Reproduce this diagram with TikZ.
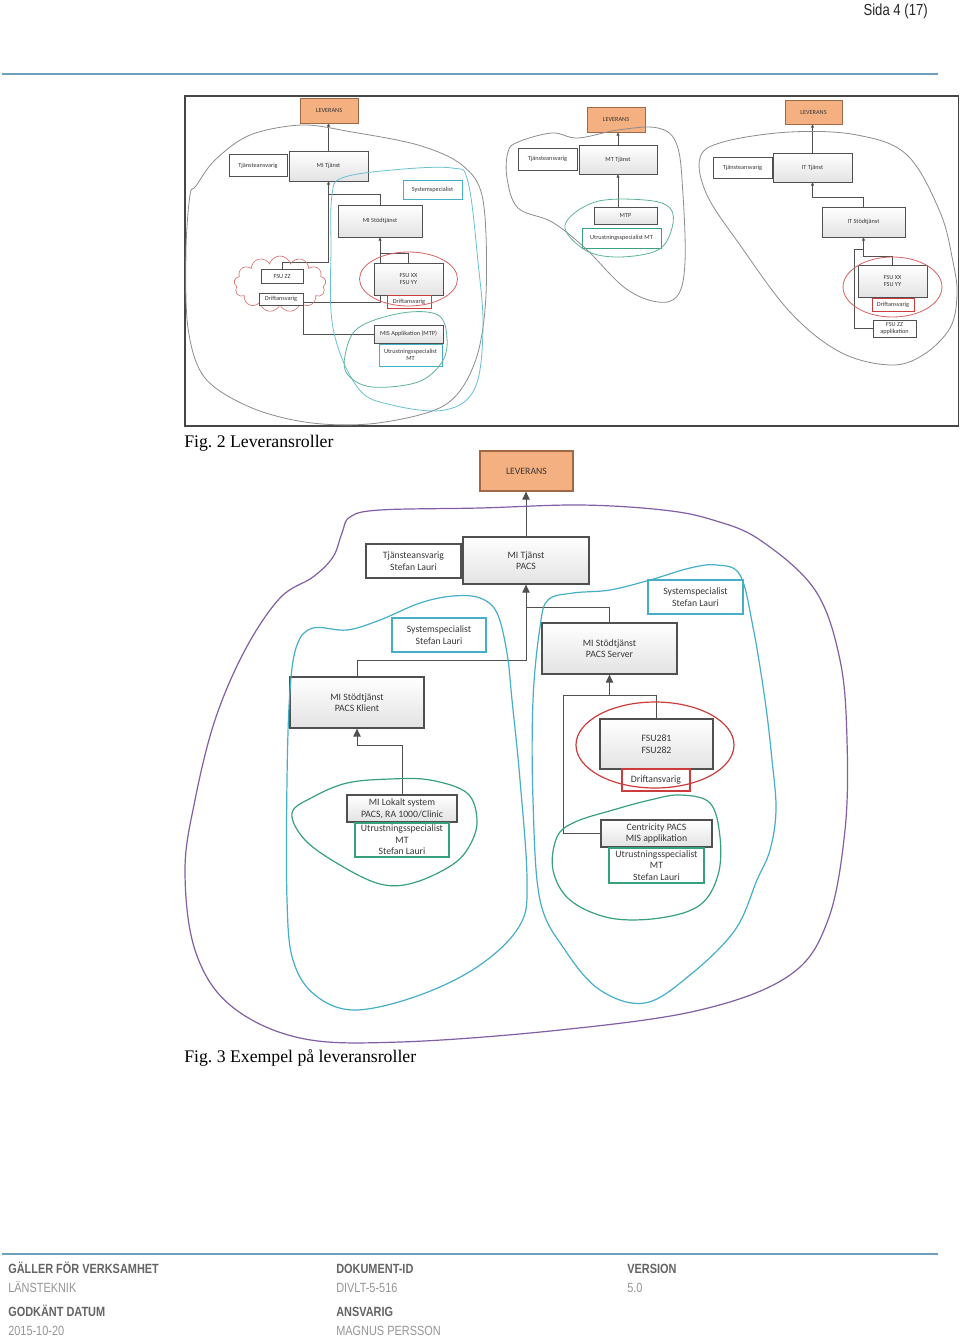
\documentclass[tikz,border=0pt]{standalone}
\usepackage{fontspec}
\setmainfont{Liberation Serif}
\newfontfamily\boxfont{Carlito}
\newfontfamily\narrowfont[FakeStretch=0.82]{Liberation Sans}
\usetikzlibrary{arrows.meta,shapes.symbols,shadows}
\pgfdeclarelayer{back}
\pgfdeclarelayer{bg}
\pgfsetlayers{back,bg,main}
\frenchspacing
\newcommand{\pu}{0.75pt}
\definecolor{steel}{RGB}{110,160,190}
\definecolor{oran}{RGB}{244,176,128}
\definecolor{oranb}{RGB}{160,105,70}
\definecolor{cyanl}{RGB}{70,175,200}
\definecolor{greenl}{RGB}{55,160,125}
\definecolor{redl}{RGB}{205,60,60}
\definecolor{purp}{RGB}{130,95,165}
\definecolor{blobg}{RGB}{140,140,140}
\definecolor{boxb}{RGB}{80,80,80}
\definecolor{txt}{RGB}{55,55,55}
\definecolor{fhd}{RGB}{100,100,100}
\definecolor{fval}{RGB}{150,150,150}
\tikzset{
  base/.style={inner sep=0pt, align=center, text=txt},
  big/.style={base, font=\boxfont\fontsize{7.3}{8.7}\selectfont, line width=0.9pt},
  small/.style={base, font=\boxfont\fontsize{4.7}{5.6}\selectfont, line width=0.5pt},
  gbox/.style={draw=boxb, top color=white, bottom color=gray!22,
     drop shadow={shadow xshift=0.7pt, shadow yshift=-0.7pt, opacity=0.25}},
  wbox/.style={draw=boxb, fill=white},
  cbox/.style={draw=cyanl, fill=white},
  tbox/.style={draw=greenl, fill=white},
  rbox/.style={draw=redl, fill=white},
  lbox/.style={draw=oranb, fill=oran},
  conn/.style={draw=boxb, line width=0.75pt},
  arr/.style={conn, -{Triangle[length=6pt,width=5.5pt]}},
  sconn/.style={draw=boxb, line width=0.45pt},
  sarr/.style={sconn, -{Triangle[length=2.4pt,width=2.2pt]}},
  blob2/.style={draw=blobg, line width=0.6pt},
  fhead/.style={anchor=base west, inner sep=0pt, text=fhd, font=\narrowfont\bfseries\fontsize{10}{12}\selectfont},
  fvalue/.style={anchor=base west, inner sep=0pt, text=fval, font=\narrowfont\fontsize{10}{12}\selectfont},
}
\begin{document}
\begin{tikzpicture}[x=0.75pt,y=-0.75pt]
\useasboundingbox (0,0) rectangle (960,1336);
\begin{pgfonlayer}{back}
\fill[white] (0,0) rectangle (960,1336);
\end{pgfonlayer}

% header
\node[anchor=base east, inner sep=0pt, text=black!85, font=\narrowfont\fontsize{12}{14}\selectfont] (page) at (928,15) {Sida 4 (17)};
\draw[steel, line width=0.9pt] (2,74) -- (938,74);

% ---------------- Fig 2 frame
\draw[gray!55!black, line width=1.2pt] (185,96) rectangle (958.5,426);

% left group
\node[cloud, draw=redl!70, cloud puffs=13, cloud ignores aspect, minimum width=92*\pu, minimum height=56*\pu, line width=0.5pt] (cloudL) at (280,284) {};
\node[small,lbox,minimum width=58*\pu,minimum height=25*\pu] (L1lev) at (329,110.5) {LEVERANS};
\node[small,wbox,minimum width=58*\pu,minimum height=22*\pu] (L1tja) at (258,165.5) {Tjänsteansvarig};
\node[small,gbox,minimum width=79*\pu,minimum height=30*\pu] (L1mit) at (328.5,166) {MI Tjänst};
\node[small,cbox,minimum width=59*\pu,minimum height=19*\pu] (L1sys) at (432.5,189.5) {Systemspecialist};
\node[small,gbox,minimum width=84*\pu,minimum height=32*\pu] (L1stod) at (380,221) {MI Stödtjänst};
\node[small,wbox,minimum width=42*\pu,minimum height=14*\pu] (L1fzz) at (282,276) {FSU ZZ};
\node[small,wbox,minimum width=44*\pu,minimum height=12*\pu] (L1dl) at (281,299) {Driftansvarig};
\node[small,gbox,minimum width=69*\pu,minimum height=32*\pu] (L1fxx) at (408.5,279) {FSU XX\\FSU YY};
\node[small,rbox,minimum width=44*\pu,minimum height=13*\pu] (L1dr) at (409,301.5) {Driftansvarig};
\node[small,gbox,minimum width=69*\pu,minimum height=18*\pu] (L1mis) at (408.5,334) {MIS Applikation (MTP)};
\node[small,cbox,minimum width=63*\pu,minimum height=22*\pu] (L1utr) at (410.5,355) {Utrustningsspecialist\\MT};

% middle group
\node[small,lbox,minimum width=58*\pu,minimum height=25*\pu] (Mlev) at (616,119.5) {LEVERANS};
\node[small,wbox,minimum width=59*\pu,minimum height=22*\pu] (Mtja) at (547.5,159) {Tjänsteansvarig};
\node[small,gbox,minimum width=78*\pu,minimum height=29*\pu] (Mmt) at (618,159.5) {MT Tjänst};
\node[small,gbox,minimum width=63*\pu,minimum height=17*\pu] (Mmtp) at (625.5,215.5) {MTP};
\node[small,tbox,minimum width=79*\pu,minimum height=20*\pu] (Mutr) at (621.5,238) {Utrustningsspecialist MT};

% right group
\node[small,lbox,minimum width=57*\pu,minimum height=24*\pu] (Rlev) at (813.5,112) {LEVERANS};
\node[small,wbox,minimum width=59*\pu,minimum height=21*\pu] (Rtja) at (742.5,167.5) {Tjänsteansvarig};
\node[small,gbox,minimum width=79*\pu,minimum height=29*\pu] (Rit) at (812.5,167.5) {IT Tjänst};
\node[small,gbox,minimum width=83*\pu,minimum height=30*\pu] (Rstod) at (863.5,222) {IT Stödtjänst};
\node[small,gbox,minimum width=69*\pu,minimum height=32*\pu] (Rfxx) at (892.5,281) {FSU XX\\FSU YY};
\node[small,rbox,minimum width=42*\pu,minimum height=13*\pu] (Rdr) at (893,304.5) {Driftansvarig};
\node[small,wbox,minimum width=43*\pu,minimum height=17*\pu] (Rfzz) at (894.5,328.5) {FSU ZZ\\applikation};

\coordinate (a1) at (0,194);
\coordinate (a2) at (0,262);
\coordinate (a3) at (0,253);
\coordinate (a4) at (0,302);
\coordinate (a5) at (303,0);
\coordinate (b1) at (0,197);
\coordinate (b2) at (0,256);
\coordinate (b3) at (0,249);
\coordinate (b4) at (854,0);

\begin{pgfonlayer}{bg}
\draw[sarr] (L1mit.north) -- (L1mit.north |- L1lev.south);
\draw[sarr] (L1stod.north) |- (L1mit.south |- a1) -- (L1mit.south);
\draw[sconn] (L1mit.south |- a1) -- (L1mit.south |- a2) -| (L1fzz.north);
\draw[sarr] (L1fxx.north) |- (L1stod.south |- a3) -- (L1stod.south);
\draw[sconn] (L1stod.south |- a3) -- (L1stod.south |- a4) -| (a5 |- L1mis.west) -- (L1mis.west);
\draw[sarr] (Mmt.north) -- (Mmt.north |- Mlev.south);
\draw[sarr] (Mmt.south |- Mmtp.north) -- (Mmt.south);
\draw[sarr] (Rit.north) -- (Rit.north |- Rlev.south);
\draw[sarr] (Rstod.north) |- (Rit.south |- b1) -- (Rit.south);
\draw[sarr] (Rfxx.north) |- (Rstod.south |- b2) -- (Rstod.south);
\draw[sconn] (Rfzz.west) -| (b4 |- b3) -- (Rstod.south |- b3);
\end{pgfonlayer}

% fig 2 blobs
\draw[blob2] plot[smooth cycle, tension=0.55] coordinates {(190,195) (196,186) (215,160) (250,135) (302,125) (352,132) (418,145) (462,165) (483,200) (486,295) (475,362) (445,405) (378,423) (312,423) (252,408) (205,378) (188,328) (186,250)};
\draw[cyanl!80, line width=0.6pt] plot[smooth cycle, tension=0.6] coordinates {(332,195) (342,178) (392,170) (452,168) (468,182) (478,262) (483,328) (475,388) (445,410) (392,405) (358,388) (333,328) (331,245)};
\draw[greenl!80, line width=0.6pt] plot[smooth cycle, tension=0.6] coordinates {(345,356) (358,328) (402,313) (438,315) (447,338) (442,362) (418,382) (372,387) (348,375)};
\draw[redl!80, line width=0.6pt] (L1fxx.center) ellipse [x radius=36.75pt, y radius=20.25pt];
\draw[blob2] plot[smooth cycle, tension=0.6] coordinates {(508,152) (518,142) (552,133) (578,138) (618,130) (658,128) (677,145) (683,195) (685,262) (678,295) (658,302) (625,288) (585,248) (552,222) (518,208) (507,178)};
\draw[greenl!80, line width=0.6pt] plot[smooth cycle, tension=0.6] coordinates {(565,225) (595,202) (645,200) (670,208) (672,228) (658,250) (618,257) (585,250)};
\draw[blob2] plot[smooth cycle, tension=0.6] coordinates {(700,158) (723,142) (790,132) (857,135) (907,155) (940,212) (953,262) (957,295) (950,328) (923,355) (890,365) (840,352) (790,312) (740,245) (707,195)};
\draw[redl!80, line width=0.6pt] (892.5,287) ellipse [x radius=37.1pt, y radius=22.5pt];

\node[anchor=base west, inner sep=0pt, font=\fontsize{13.3}{15}\selectfont] (cap2) at (184,447) {Fig. 2 Leveransroller};

% ---------------- Fig 3
\node[big,lbox,minimum width=93*\pu,minimum height=40*\pu] (lev) at (526.5,471) {LEVERANS};
\node[big,wbox,minimum width=95*\pu,minimum height=34*\pu] (tja) at (413.5,561) {Tjänsteansvarig\\Stefan Lauri};
\node[big,gbox,minimum width=126*\pu,minimum height=47*\pu] (mit) at (526,560.5) {MI Tjänst\\PACS};
\node[big,cbox,minimum width=95*\pu,minimum height=34*\pu] (sysR) at (695.5,597) {Systemspecialist\\Stefan Lauri};
\node[big,cbox,minimum width=94*\pu,minimum height=34*\pu] (sysL) at (439,635) {Systemspecialist\\Stefan Lauri};
\node[big,gbox,minimum width=135*\pu,minimum height=51*\pu] (server) at (609.5,648.5) {MI Stödtjänst\\PACS Server};
\node[big,gbox,minimum width=134*\pu,minimum height=51*\pu] (klient) at (357,702.5) {MI Stödtjänst\\PACS Klient};
\node[big,gbox,minimum width=110*\pu,minimum height=27*\pu] (lokal) at (402,808.5) {MI Lokalt system\\PACS, RA 1000/Clinic};
\node[big,tbox,minimum width=94*\pu,minimum height=34*\pu] (utrL) at (402,840) {Utrustningsspecialist\\MT\\Stefan Lauri};
\node[big,gbox,minimum width=113*\pu,minimum height=50*\pu] (fsu) at (656.5,744) {FSU281\\FSU282};
\node[big,rbox,minimum width=68*\pu,minimum height=22*\pu] (drift) at (656,780) {Driftansvarig};
\node[big,gbox,minimum width=111*\pu,minimum height=27*\pu] (cent) at (656.5,833.5) {Centricity PACS\\MIS applikation};
\node[big,tbox,minimum width=95*\pu,minimum height=35*\pu] (utrR) at (656.5,865.5) {Utrustningsspecialist\\MT\\Stefan Lauri};

\coordinate (yA) at (0,607);
\coordinate (yB) at (0,660);
\coordinate (yC) at (0,745);
\coordinate (yD) at (0,695);
\coordinate (xE) at (563,0);

\begin{pgfonlayer}{bg}
\draw[arr] (mit.north) -- (mit.north |- lev.south);
\draw[arr] (server.north) |- (mit.south |- yA) -- (mit.south);
\draw[conn] (klient.north) |- (mit.south |- yB) -- (mit.south |- yA);
\draw[arr] (lokal.north) |- (klient.south |- yC) -- (klient.south);
\draw[arr] (fsu.north) |- (server.south |- yD) -- (server.south);
\draw[conn] (cent.west) -| (xE |- yD) -- (server.south |- yD);
\end{pgfonlayer}

% fig 3 blobs
\draw[purp, line width=0.9pt] plot[smooth cycle, tension=0.6] coordinates {(313,577) (333,557) (342,533) (350,517) (380,510) (480,508) (580,505) (663,510) (713,520) (760,540) (815,590) (840,660) (847,740) (845,830) (828,920) (790,975) (700,1010) (560,1030) (400,1042) (300,1038) (230,1005) (195,950) (185,870) (195,800) (215,720) (245,650) (280,598)};
\draw[cyanl, line width=0.9pt] plot[smooth cycle, tension=0.6] coordinates {(287,900) (287,780) (290,690) (297,645) (313,628) (347,630) (380,620) (420,603) (453,596) (480,598) (497,613) (507,653) (512,700) (520,780) (527,880) (520,925) (480,965) (420,995) (355,1010) (315,995) (293,960)};
\draw[cyanl, line width=0.9pt] plot[smooth cycle, tension=0.6] coordinates {(540,627) (548,600) (573,593) (610,590) (650,580) (690,568) (717,565) (740,575) (753,627) (765,700) (772,760) (776,810) (770,850) (757,880) (735,930) (690,975) (645,1003) (600,990) (565,950) (540,900) (533,800) (533,700)};
\draw[greenl, line width=0.9pt] plot[smooth cycle, tension=0.6] coordinates {(292,813) (313,797) (347,783) (390,779) (430,780) (467,793) (477,820) (470,845) (452,865) (413,883) (380,884) (340,865) (305,840)};
\draw[greenl, line width=0.9pt] plot[smooth cycle, tension=0.6] coordinates {(557,837) (575,822) (613,810) (650,800) (680,795) (710,803) (720,837) (718,875) (700,905) (660,918) (610,918) (570,900) (553,870)};
\draw[redl, line width=0.9pt] (655,745) ellipse [x radius=59.25pt, y radius=32.25pt];

\node[anchor=base west, inner sep=0pt, font=\fontsize{13.3}{15}\selectfont] (cap3) at (184,1062) {Fig. 3 Exempel på leveransroller};

% ---------------- footer
\draw[steel, line width=1.1pt] (2,1254) -- (938,1254);
\node[fhead] (h1) at (8,1273) {GÄLLER FÖR VERKSAMHET};
\node[fvalue] (v1) at (8,1292) {LÄNSTEKNIK};
\node[fhead] (h2) at (336,1273) {DOKUMENT-ID};
\node[fvalue] (v2) at (336,1292) {DIVLT-5-516};
\node[fhead] (h3) at (627,1273) {VERSION};
\node[fvalue] (v3) at (627,1292) {5.0};
\node[fhead] (h4) at (8,1316) {GODKÄNT DATUM};
\node[fvalue] (v4) at (8,1335) {2015-10-20};
\node[fhead] (h5) at (336,1316) {ANSVARIG};
\node[fvalue] (v5) at (336,1335) {MAGNUS PERSSON};
\end{tikzpicture}
\end{document}
